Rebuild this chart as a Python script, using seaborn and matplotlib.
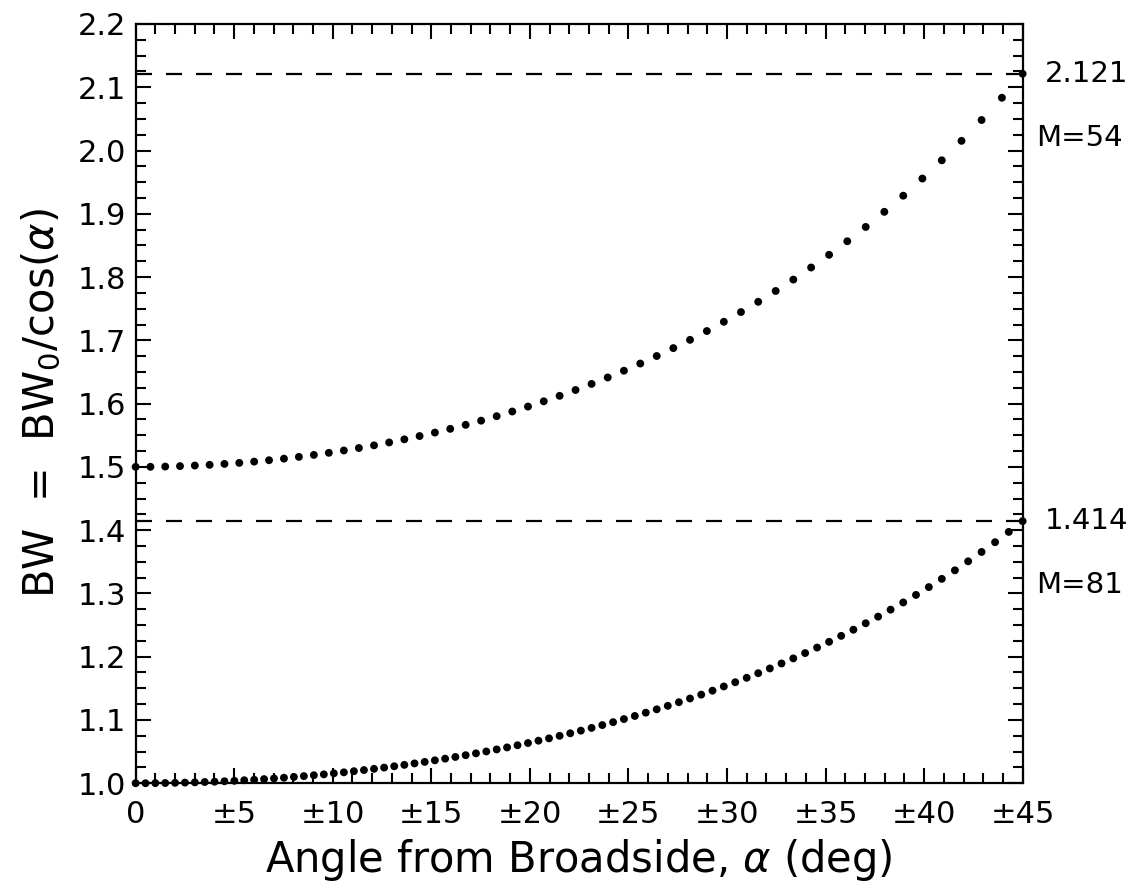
import matplotlib
matplotlib.use("Agg")
import matplotlib.pyplot as plt
import seaborn as sns
import pandas as pd
from matplotlib.ticker import MultipleLocator

# ---- data ----
angles_m81 = [0.000, 0.500, 1.000, 1.501, 2.001, 2.502, 3.003, 3.504, 4.005, 4.506,
              5.008, 5.510, 6.013, 6.516, 7.020, 7.524, 8.029, 8.535, 9.041, 9.548,
              10.055, 10.564, 11.073, 11.583, 12.094, 12.606, 13.119, 13.633, 14.148, 14.665,
              15.182, 15.701, 16.221, 16.743, 17.266, 17.791, 18.317, 18.844, 19.374, 19.905,
              20.438, 20.972, 21.509, 22.048, 22.588, 23.131, 23.676, 24.223, 24.773, 25.325,
              25.880, 26.437, 26.997, 27.560, 28.125, 28.694, 29.266, 29.841, 30.419, 31.001,
              31.586, 32.175, 32.768, 33.365, 33.966, 34.571, 35.181, 35.795, 36.414, 37.038,
              37.668, 38.302, 38.943, 39.589, 40.241, 40.899, 41.564, 42.236, 42.916, 43.602,
              44.297, 45.000]
bw_m81 = [1.0000, 1.0000, 1.0002, 1.0003, 1.0006, 1.0010, 1.0014, 1.0019, 1.0024, 1.0031,
          1.0038, 1.0047, 1.0055, 1.0065, 1.0076, 1.0087, 1.0099, 1.0112, 1.0126, 1.0140,
          1.0156, 1.0172, 1.0190, 1.0208, 1.0227, 1.0247, 1.0268, 1.0290, 1.0313, 1.0337,
          1.0362, 1.0388, 1.0415, 1.0443, 1.0472, 1.0502, 1.0534, 1.0566, 1.0600, 1.0635,
          1.0672, 1.0709, 1.0749, 1.0789, 1.0831, 1.0874, 1.0919, 1.0965, 1.1014, 1.1063,
          1.1115, 1.1168, 1.1223, 1.1280, 1.1339, 1.1400, 1.1463, 1.1529, 1.1596, 1.1666,
          1.1739, 1.1814, 1.1893, 1.1973, 1.2057, 1.2144, 1.2235, 1.2329, 1.2426, 1.2528,
          1.2633, 1.2743, 1.2857, 1.2976, 1.3100, 1.3230, 1.3365, 1.3507, 1.3655, 1.3809,
          1.3972, 1.4142]

angles_m54 = [0.000, 0.750, 1.501, 2.251, 3.003, 3.754, 4.506, 5.259, 6.013, 6.768,
              7.524, 8.282, 9.041, 9.801, 10.564, 11.328, 12.094, 12.862, 13.633, 14.406,
              15.182, 15.961, 16.743, 17.528, 18.317, 19.109, 19.905, 20.705, 21.509, 22.318,
              23.131, 23.950, 24.773, 25.602, 26.437, 27.278, 28.125, 28.980, 29.841, 30.710,
              31.586, 32.471, 33.365, 34.268, 35.181, 36.104, 37.038, 37.984, 38.943, 39.914,
              40.899, 41.899, 42.916, 43.949, 45.000]
bw_m54 = [1.5000, 1.5001, 1.5005, 1.5012, 1.5021, 1.5032, 1.5047, 1.5063, 1.5083, 1.5105,
          1.5130, 1.5158, 1.5189, 1.5222, 1.5259, 1.5298, 1.5340, 1.5386, 1.5435, 1.5487,
          1.5542, 1.5601, 1.5664, 1.5730, 1.5801, 1.5875, 1.5953, 1.6036, 1.6123, 1.6215,
          1.6311, 1.6413, 1.6520, 1.6633, 1.6752, 1.6877, 1.7008, 1.7147, 1.7293, 1.7447,
          1.7609, 1.7780, 1.7960, 1.8151, 1.8352, 1.8566, 1.8792, 1.9031, 1.9286, 1.9557,
          1.9845, 2.0153, 2.0482, 2.0834, 2.1213]

ref_values = [2.121, 1.414]
ref_labels = ["2.121", "1.414"]
m_labels = ["M=54", "M=81"]

x_ticks = [0, 5, 10, 15, 20, 25, 30, 35, 40, 45]
x_tick_labels = ["0", "±5", "±10", "±15", "±20", "±25", "±30", "±35", "±40", "±45"]
y_ticks = [1.0, 1.1, 1.2, 1.3, 1.4, 1.5, 1.6, 1.7, 1.8, 1.9, 2.0, 2.1, 2.2]

df = pd.concat([
    pd.DataFrame({"angle": angles_m54, "bw": bw_m54, "series": "M=54"}),
    pd.DataFrame({"angle": angles_m81, "bw": bw_m81, "series": "M=81"}),
])

# ---- plot ----
sns.set_style("ticks")
plt.rcParams["font.family"] = ["DejaVu Sans"]
plt.rcParams["mathtext.fontset"] = "dejavusans"
plt.rcParams["text.color"] = "black"
plt.rcParams["axes.labelcolor"] = "black"

fig = plt.figure(figsize=(11.35, 8.88), dpi=100)
ax = fig.add_axes([0.1195, 0.118, 0.7815, 0.855])

sns.scatterplot(data=df, x="angle", y="bw", hue="series",
                palette={"M=54": "black", "M=81": "black"},
                s=32, linewidth=0, legend=False, ax=ax, clip_on=False, zorder=3)

for v in ref_values:
    ax.axhline(v, color="black", lw=1.6, dashes=(7.2, 6.3), zorder=2)

for v, lab, m in zip(ref_values, ref_labels, m_labels):
    ax.annotate(lab, xy=(45, v), xytext=(16, 0), textcoords="offset points",
                ha="left", va="center", fontsize=21, color="black", annotation_clip=False)
    ax.annotate(m, xy=(45, v), xytext=(10, -46), textcoords="offset points",
                ha="left", va="center", fontsize=21, color="black", annotation_clip=False)

ax.set_xlim(0, 45)
ax.set_ylim(1.0, 2.2)
ax.set_xticks(x_ticks)
ax.set_xticklabels(x_tick_labels)
ax.set_yticks(y_ticks)
ax.set_yticklabels([f"{t:.1f}" for t in y_ticks])
ax.xaxis.set_minor_locator(MultipleLocator(1))
ax.yaxis.set_minor_locator(MultipleLocator(0.025))

ax.tick_params(which="both", direction="in", top=True, right=True, width=1.5,
               colors="black", labelsize=22)
ax.tick_params(which="major", length=11)
ax.tick_params(which="minor", length=7.5)
ax.tick_params(axis="y", which="major", pad=7)
ax.tick_params(axis="x", which="major", pad=12)
for sp in ax.spines.values():
    sp.set_visible(True)
    sp.set_linewidth(1.6)
    sp.set_color("black")

ax.set_xlabel(r"Angle from Broadside, $\alpha$ (deg)", fontsize=30, labelpad=6)
ax.set_ylabel(r"BW  =  BW$_0$/cos($\alpha$)", fontsize=30, labelpad=10)

fig.savefig("out.png", dpi=100, facecolor="white")
